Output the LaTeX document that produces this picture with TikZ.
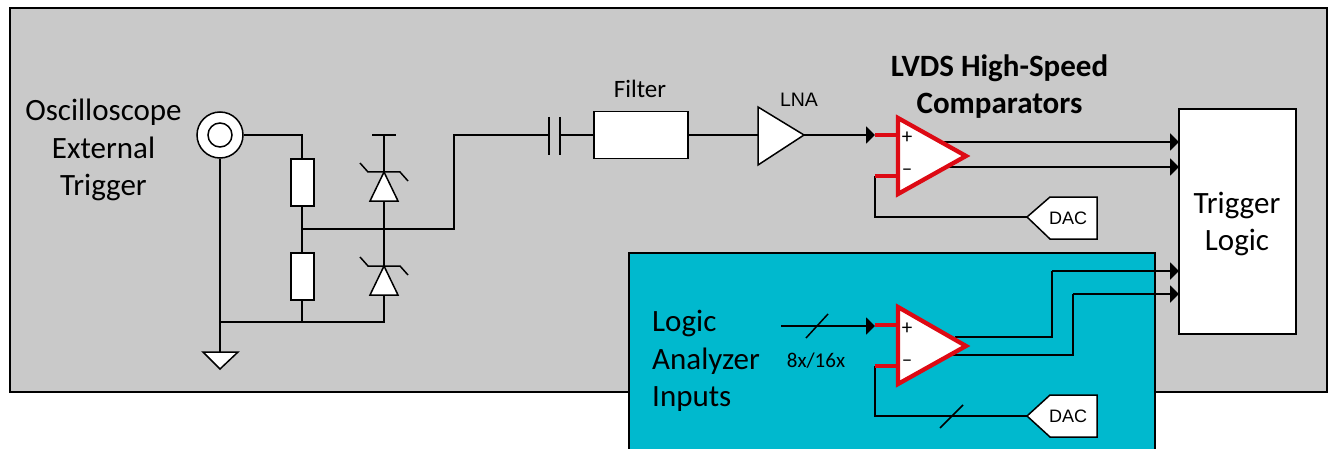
\documentclass[tikz,border=0pt]{standalone}
\usepackage{fontspec}
\setmainfont{Carlito}
\newfontfamily\arialish{Liberation Sans}
\usetikzlibrary{arrows.meta}
\definecolor{panelgray}{HTML}{C9C9C9}
\definecolor{panelteal}{HTML}{00B9CE}
\definecolor{cmpred}{HTML}{DD0A14}
\tikzset{
  wire/.style={draw=black,line width=1.9pt,line join=miter},
  thinwire/.style={draw=black,line width=1.5pt},
  arrowwire/.style={wire,-{Triangle[length=9pt,width=17pt]}},
  part/.style={draw=black,fill=white,line width=1.5pt,line join=miter},
  resistor/.style={draw=black,fill=white,line width=2pt,minimum width=23pt,minimum height=47pt,inner sep=0pt},
  block/.style={draw=black,fill=white,line width=1.9pt,inner sep=0pt},
  redpart/.style={draw=cmpred,fill=white,line width=4.3pt,line join=miter},
  redstub/.style={draw=cmpred,line width=4.3pt},
  bigtext/.style={font=\fontsize{31}{37.3}\selectfont,align=center,inner sep=0pt},
  midtext/.style={font=\fontsize{25}{30}\selectfont,inner sep=0pt},
  signtext/.style={font=\fontsize{21}{24}\selectfont,inner sep=0pt},
  smalltext/.style={font=\arialish\fontsize{18}{20}\selectfont,inner sep=0pt}
}
\begin{document}
\begin{tikzpicture}[x=1pt,y=-1pt]
\useasboundingbox (0,0) rectangle (1337,449);
% panels
\path[draw=black,fill=panelgray,line width=1.5pt] (10,8) rectangle (1327,392);
\path[draw=black,fill=panelteal,line width=1.5pt] (629,253) rectangle (1155,470);
% labels
\node[bigtext] (osc) at (103.5,150) {Oscilloscope\\External\\Trigger};
\node[bigtext,align=left,anchor=west] (logic) at (652,361) {Logic\\Analyzer\\Inputs};
\node[midtext] (filterlabel) at (640,89) {Filter};
\node[smalltext,font=\arialish\fontsize{19.5}{22}\selectfont] (lnalabel) at (799,100) {LNA};
\node[bigtext,font=\bfseries\fontsize{31}{37.3}\selectfont] (title) at (999.5,86.5) {LVDS High-Speed\\Comparators};
\node[midtext,font=\fontsize{21}{24}\selectfont] (buswidth) at (816,361) {8x/16x};
% coordinates
\coordinate (bnc) at (220,135);
\coordinate (rtop) at (302,135);
\coordinate (gndj) at (220,322);
\coordinate (gndtop) at (220,352);
\coordinate (rbot) at (302,322);
\coordinate (zbot) at (384,322);
\coordinate (mid) at (302,229);
\coordinate (zmid) at (384,229);
\coordinate (up) at (454,229);
\coordinate (upt) at (454,135);
% BNC
\node[circle,draw=black,fill=white,line width=1.5pt,minimum size=46pt,inner sep=0pt] (bncouter) at (bnc) {};
\node[circle,draw=black,fill=white,line width=1.5pt,minimum size=24pt,inner sep=0pt] (bncinner) at (bnc) {};
% resistors
\node[resistor] (r1) at (302,182.5) {};
\node[resistor] (r2) at (302,276) {};
\draw[wire] (bncouter.east) -- (rtop) -- (r1.north);
\draw[wire] (r1.south) -- (r2.north);
\draw[wire] (r2.south) -- (rbot);
\draw[thinwire] (bncouter.south) -- (gndtop);
\draw[wire] (gndj) -- (zbot) -- (384,295);
% ground
\draw[part] (gndtop) -- (203,352) -- (220,369) -- (238,352) -- cycle;
% zeners
\coordinate (z1a) at (384,172);
\coordinate (z1b) at (384,201);
\coordinate (z2a) at (384,266);
\coordinate (z2b) at (384,295);
\draw[thinwire] (372,135) -- (396,135);
\draw[thinwire] (384,135) -- (z1a);
\draw[wire,line width=2.2pt] (z1b) -- (384,253);
\draw[thinwire] (384,253) -- (z2a);
\draw[part] (z1a) -- (370,201) -- (398,201) -- cycle;
\draw[part] (z2a) -- (370,295) -- (398,295) -- cycle;
\draw[thinwire] (360,163) -- (368,172) -- (400,172) -- (408,181);
\draw[thinwire] (360,257) -- (368,266) -- (400,266) -- (408,275);
% signal path
\draw[wire] (mid) -- (zmid) -- (up) -- (upt) -- (549,135);
\draw[wire] (549,117) -- (549,155);
\draw[wire] (560,117) -- (560,155);
\node[block,minimum width=94pt,minimum height=47pt] (filter) at (641,135) {};
\draw[wire] (560,135) -- (filter.west);
\coordinate (lnatip) at (804,135);
\coordinate (lnain) at (758,135);
\draw[wire] (filter.east) -- (lnain);
\draw[part] (758,107) -- (lnatip) -- (758,165) -- cycle;
% trigger logic
\node[block,minimum width=117pt,minimum height=225pt] (trig) at (1237.5,221.5) {};
\node[bigtext] (triglabel) at (1237,224) {Trigger\\Logic};
% upper comparator
\coordinate (c1p) at (875,135);
\coordinate (c1n) at (875,176);
\coordinate (c1a) at (898,135);
\coordinate (c1b) at (898,176);
\coordinate (dac1tip) at (1027,217);
\draw[arrowwire] (lnatip) -- (c1p);
\draw[wire] (c1n) -- (875,217) -- (dac1tip);
\draw[arrowwire] (944,142) -- (1179,142);
\draw[arrowwire] (945,167) -- (1179,167);
\draw[redstub] (c1p) -- (c1a);
\draw[redstub] (c1n) -- (c1b);
\draw[redpart] (898,118) -- (966,156) -- (898,194) -- cycle;
\node[signtext] (c1plus) at (907,138) {+};
\node[signtext] (c1minus) at (907,172) {–};
\draw[part] (dac1tip) -- (1050,197) -- (1097,197) -- (1097,239) -- (1050,239) -- cycle;
\node[smalltext] (dac1) at (1068,218) {DAC};
% lower comparator
\coordinate (c2p) at (875,325);
\coordinate (c2n) at (875,366);
\coordinate (c2a) at (898,325);
\coordinate (c2b) at (898,366);
\coordinate (dac2tip) at (1027,416);
\coordinate (busin) at (781,326);
\draw[arrowwire] (busin) -- (875,326);
\draw[thinwire] (806,338) -- (828,314);
\draw[wire] (c2n) -- (875,416) -- (dac2tip);
\draw[thinwire] (940,428) -- (963,405);
\draw[wire] (955,337) -- (1052,337) -- (1052,271);
\draw[arrowwire] (1052,271) -- (1179,271);
\draw[wire] (950,355) -- (1073,355) -- (1073,294);
\draw[arrowwire] (1073,294) -- (1179,294);
\draw[redstub] (c2p) -- (c2a);
\draw[redstub] (c2n) -- (c2b);
\draw[redpart] (898,307) -- (966,346) -- (898,384) -- cycle;
\node[signtext] (c2plus) at (907,329) {+};
\node[signtext] (c2minus) at (907,363) {–};
\draw[part] (dac2tip) -- (1050,395) -- (1097,395) -- (1097,437) -- (1050,437) -- cycle;
\node[smalltext] (dac2) at (1068,416) {DAC};
\end{tikzpicture}
\end{document}
